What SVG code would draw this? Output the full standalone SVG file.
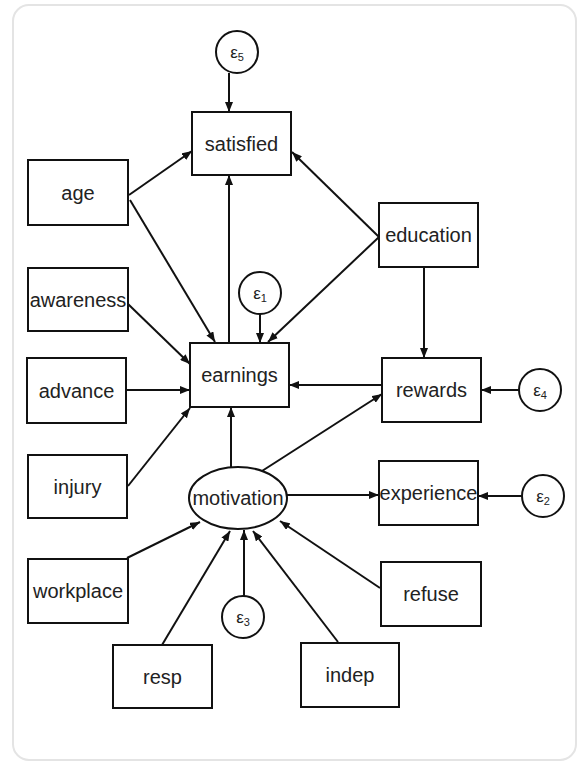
<svg xmlns="http://www.w3.org/2000/svg" width="582" height="766" viewBox="0 0 582 766">
<style>
.box{fill:#fff;stroke:#111;stroke-width:2}
.err{fill:#fff;stroke:#111;stroke-width:2}
.lbl{font-family:"Liberation Sans",Arial,sans-serif;font-size:20px;fill:#222;text-anchor:middle}
.eps{font-family:"Liberation Sans",Arial,sans-serif;font-size:17px;fill:#222;text-anchor:middle}
.sub{font-size:11px}
.edge{stroke:#111;stroke-width:2;fill:none;marker-end:url(#ah)}
</style>
<defs>
<marker id="ah" markerUnits="userSpaceOnUse" markerWidth="10" markerHeight="8" refX="10" refY="4" orient="auto">
<path d="M0,0 L10,4 L0,8 z" fill="#111"/>
</marker>
</defs>
<rect x="0" y="0" width="582" height="766" fill="#fff"/>
<rect x="13" y="5" width="563" height="755" rx="16" fill="#fff" stroke="#e4e4e4" stroke-width="2"/>
<g id="connectors">
<line class="edge" x1="229" y1="73" x2="229" y2="112"/>
<line class="edge" x1="129" y1="195" x2="192" y2="151"/>
<line class="edge" x1="130" y1="200" x2="215" y2="342"/>
<line class="edge" x1="379" y1="237" x2="292" y2="152"/>
<line class="edge" x1="379" y1="237" x2="268" y2="342"/>
<line class="edge" x1="229" y1="343" x2="229" y2="175"/>
<line class="edge" x1="260" y1="314" x2="260" y2="343"/>
<line class="edge" x1="128" y1="304" x2="190" y2="364"/>
<line class="edge" x1="126" y1="390" x2="190" y2="390"/>
<line class="edge" x1="128" y1="486" x2="190" y2="408"/>
<line class="edge" x1="424" y1="267" x2="424" y2="358"/>
<line class="edge" x1="382" y1="385" x2="289" y2="385"/>
<line class="edge" x1="519" y1="390" x2="481" y2="390"/>
<line class="edge" x1="231" y1="467" x2="231" y2="407"/>
<line class="edge" x1="262" y1="471" x2="382" y2="394"/>
<line class="edge" x1="287" y1="495" x2="379" y2="495"/>
<line class="edge" x1="522" y1="496" x2="478" y2="496"/>
<line class="edge" x1="127" y1="558" x2="200" y2="522"/>
<line class="edge" x1="162" y1="645" x2="230" y2="531"/>
<line class="edge" x1="244" y1="597" x2="244" y2="530"/>
<line class="edge" x1="338" y1="642" x2="253" y2="531"/>
<line class="edge" x1="380" y1="588" x2="280" y2="521"/>
</g>
<g id="e5"><circle class="err" cx="237" cy="52" r="21"/><text class="eps" x="237" y="58">ε<tspan class="sub" dy="3">5</tspan></text></g>
<g id="satisfied"><rect class="box" x="192" y="112" width="99" height="63"/><text class="lbl" x="241.5" y="150.5">satisfied</text></g>
<g id="age"><rect class="box" x="28" y="160" width="100" height="65"/><text class="lbl" x="78" y="199.5">age</text></g>
<g id="education"><rect class="box" x="379" y="203" width="99" height="64"/><text class="lbl" x="428.5" y="242">education</text></g>
<g id="awareness"><rect class="box" x="28" y="268" width="100" height="63"/><text class="lbl" x="78" y="306.5">awareness</text></g>
<g id="e1"><circle class="err" cx="260" cy="293" r="21"/><text class="eps" x="260" y="299">ε<tspan class="sub" dy="3">1</tspan></text></g>
<g id="earnings"><rect class="box" x="190" y="343" width="99" height="64"/><text class="lbl" x="239.5" y="382">earnings</text></g>
<g id="advance"><rect class="box" x="27" y="358" width="99" height="65"/><text class="lbl" x="76.5" y="397.5">advance</text></g>
<g id="rewards"><rect class="box" x="382" y="358" width="99" height="64"/><text class="lbl" x="431.5" y="397">rewards</text></g>
<g id="e4"><circle class="err" cx="540" cy="390" r="21"/><text class="eps" x="540" y="396">ε<tspan class="sub" dy="3">4</tspan></text></g>
<g id="injury"><rect class="box" x="28" y="455" width="99" height="63"/><text class="lbl" x="77.5" y="493.5">injury</text></g>
<g id="motivation"><ellipse class="box" cx="238" cy="498" rx="49" ry="31"/><text class="lbl" x="238" y="505">motivation</text></g>
<g id="experience"><rect class="box" x="379" y="461" width="99" height="64"/><text class="lbl" x="428.5" y="500">experience</text></g>
<g id="e2"><circle class="err" cx="543" cy="496" r="21"/><text class="eps" x="543" y="502">ε<tspan class="sub" dy="3">2</tspan></text></g>
<g id="workplace"><rect class="box" x="28" y="559" width="100" height="64"/><text class="lbl" x="78" y="598">workplace</text></g>
<g id="refuse"><rect class="box" x="381" y="562" width="100" height="64"/><text class="lbl" x="431" y="601">refuse</text></g>
<g id="e3"><circle class="err" cx="243" cy="617" r="21"/><text class="eps" x="243" y="623">ε<tspan class="sub" dy="3">3</tspan></text></g>
<g id="resp"><rect class="box" x="113" y="645" width="99" height="63"/><text class="lbl" x="162.5" y="683.5">resp</text></g>
<g id="indep"><rect class="box" x="301" y="643" width="98" height="64"/><text class="lbl" x="350" y="682">indep</text></g>
</svg>
